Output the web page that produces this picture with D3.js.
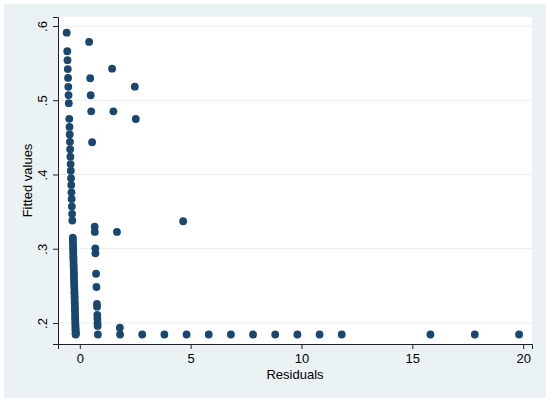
<!DOCTYPE html>
<html>
<head>
<meta charset="utf-8">
<script src="https://cdn.jsdelivr.net/npm/d3@7"></script>
<style>
  body { margin: 0; background: #fff; }
  text { font-family: "Liberation Sans", Arial, Helvetica, sans-serif; fill: #000; }
</style>
</head>
<body>
<script>
// residual / fitted value pairs
let residuals = [
  // observed 0
  -0.591, -0.566, -0.554, -0.542, -0.530, -0.518, -0.507, -0.496,
  -0.475, -0.464, -0.454, -0.444, -0.434, -0.424, -0.414, -0.405, -0.395, -0.386,
  -0.376, -0.367, -0.357, -0.347, -0.338,
  -0.315, -0.312, -0.309, -0.305, -0.301, -0.298, -0.294, -0.290, -0.287, -0.283,
  -0.279, -0.276, -0.272, -0.268, -0.265, -0.261, -0.257, -0.254, -0.250, -0.247,
  -0.243, -0.240, -0.236, -0.233, -0.229, -0.226, -0.222, -0.219, -0.216, -0.212,
  -0.209, -0.206, -0.203, -0.200, -0.197, -0.194, -0.192, -0.190, -0.188, -0.186,
  -0.185, -0.1845,
  // observed 1
  0.4215, 0.4704, 0.4933, 0.5149, 0.5566, 0.6703, 0.6774, 0.6995, 0.7062,
  0.7337, 0.7515, 0.7744, 0.7780, 0.7892, 0.7942, 0.8000, 0.8040, 0.8155,
  // observed 2 and up
  1.4575, 1.5149, 1.6774, 1.8063, 1.8155,
  2.4817, 2.5253, 2.8155,
  3.8155,
  4.663, 4.8155,
  5.8155, 6.8155, 7.8155, 8.8155, 9.8155, 10.8155, 11.8155,
  15.8155, 17.8155, 19.8155
]

let fittedValues = [
  0.591, 0.566, 0.554, 0.542, 0.530, 0.518, 0.507, 0.496,
  0.475, 0.464, 0.454, 0.444, 0.434, 0.424, 0.414, 0.405, 0.395, 0.386,
  0.376, 0.367, 0.357, 0.347, 0.338,
  0.315, 0.312, 0.309, 0.305, 0.301, 0.298, 0.294, 0.290, 0.287, 0.283,
  0.279, 0.276, 0.272, 0.268, 0.265, 0.261, 0.257, 0.254, 0.250, 0.247,
  0.243, 0.240, 0.236, 0.233, 0.229, 0.226, 0.222, 0.219, 0.216, 0.212,
  0.209, 0.206, 0.203, 0.200, 0.197, 0.194, 0.192, 0.190, 0.188, 0.186,
  0.185, 0.1845,
  0.5785, 0.5296, 0.5067, 0.4851, 0.4434, 0.3297, 0.3226, 0.3005, 0.2938,
  0.2663, 0.2485, 0.2256, 0.2220, 0.2108, 0.2058, 0.2000, 0.1960, 0.1845,
  0.5425, 0.4851, 0.3226, 0.1937, 0.1845,
  0.5183, 0.4747, 0.1845,
  0.1845,
  0.337, 0.1845,
  0.1845, 0.1845, 0.1845, 0.1845, 0.1845, 0.1845, 0.1845,
  0.1845, 0.1845, 0.1845
]

let xTicks = [0, 5, 10, 15, 20]
let yTicks = [0.2, 0.3, 0.4, 0.5, 0.6]
let yTickLabels = ['.2', '.3', '.4', '.5', '.6']

let width = 550,
  height = 403,
  plotLeft = 58, plotRight = 532,
  plotTop = 17, plotBottom = 344

let svg = d3.select('body').append('svg')
  .attr('width', width)
  .attr('height', height)

// graph region
svg.append('rect')
  .attr('x', 4).attr('y', 4)
  .attr('width', 542).attr('height', 394)
  .attr('fill', '#eaf2f3')

// plot region
svg.append('rect')
  .attr('x', plotLeft).attr('y', plotTop)
  .attr('width', plotRight - plotLeft).attr('height', plotBottom - plotTop)
  .attr('fill', '#fff')

let x = d3.scaleLinear().domain([-0.983, 20.397]).range([plotLeft, plotRight])
let y = d3.scaleLinear().domain([0.1717, 0.6121]).range([plotBottom, plotTop])

// grid
svg.append('g').selectAll('line')
  .data(yTicks)
  .enter().append('line')
  .attr('x1', plotLeft).attr('x2', plotRight)
  .attr('y1', d => y(d)).attr('y2', d => y(d))
  .attr('stroke', '#e6eff1')
  .attr('stroke-width', 1)

// points
let points = residuals.map((r, i) => ({ r: r, f: fittedValues[i] }))
svg.append('g').selectAll('circle')
  .data(points)
  .enter().append('circle')
  .attr('cx', d => x(d.r))
  .attr('cy', d => y(d.f))
  .attr('r', 3.9)
  .attr('fill', '#1a476f')

// y axis
let yAxis = svg.append('g')
  .attr('transform', `translate(${plotLeft},0)`)
  .call(d3.axisLeft(y).tickValues(yTicks).tickSize(5)
    .tickFormat((d, i) => yTickLabels[i]))
yAxis.select('.domain').attr('stroke', '#222')
yAxis.selectAll('.tick line').attr('stroke', '#222')
yAxis.selectAll('.tick text')
  .attr('x', 0).attr('dy', 0)
  .attr('text-anchor', 'middle')
  .attr('transform', 'translate(-11,0) rotate(-90)')
  .attr('font-size', 13)
  .attr('font-family', '"Liberation Sans", Arial, sans-serif')

// x axis
let xAxis = svg.append('g')
  .attr('transform', `translate(0,${plotBottom})`)
  .call(d3.axisBottom(x).tickValues(xTicks).tickSize(5).tickPadding(5))
xAxis.select('.domain').attr('stroke', '#222')
xAxis.selectAll('.tick line').attr('stroke', '#222')
xAxis.selectAll('.tick text')
  .attr('font-size', 13)
  .attr('font-family', '"Liberation Sans", Arial, sans-serif')

// axis titles
svg.append('text')
  .attr('x', (plotLeft + plotRight) / 2)
  .attr('y', 379)
  .attr('text-anchor', 'middle')
  .attr('font-size', 13)
  .text('Residuals')

svg.append('text')
  .attr('transform', `translate(32,${(plotTop + plotBottom) / 2}) rotate(-90)`)
  .attr('text-anchor', 'middle')
  .attr('font-size', 13)
  .text('Fitted values')
</script>
</body>
</html>
